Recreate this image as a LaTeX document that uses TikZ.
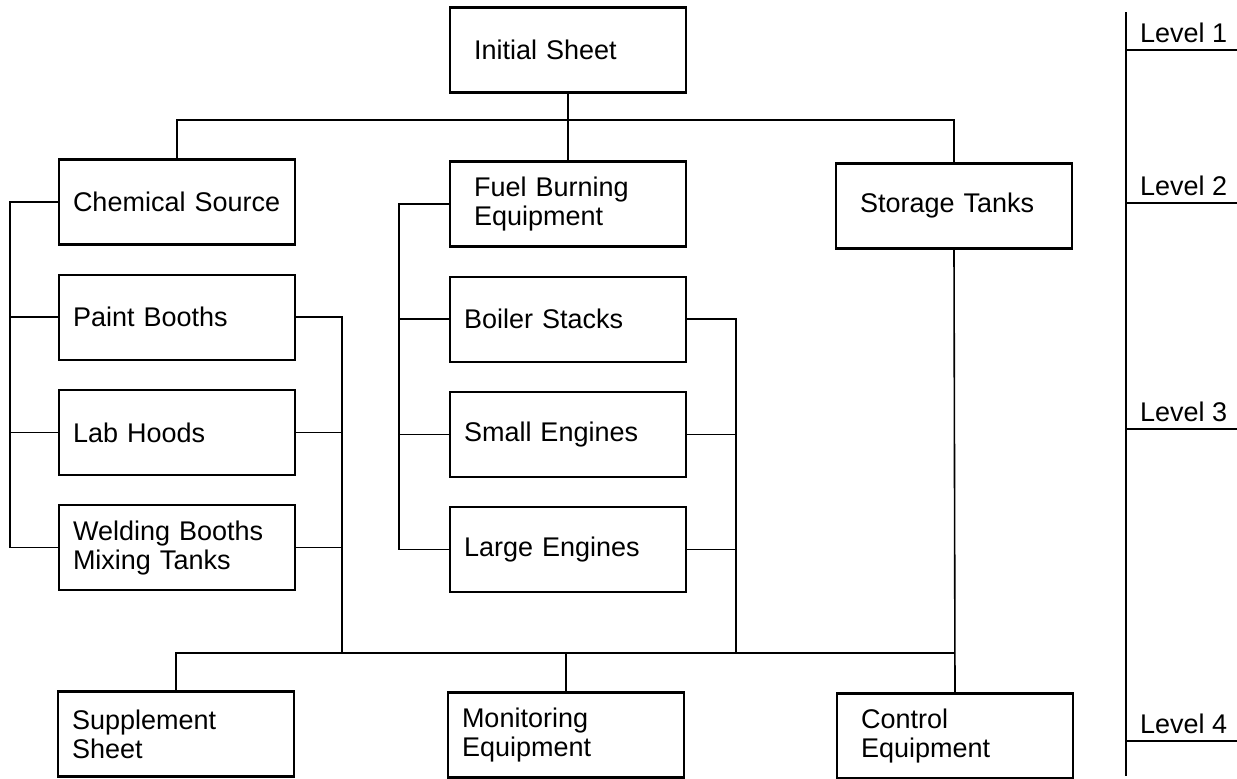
\documentclass[tikz,border=0pt]{standalone}
\usepackage{fontspec}
\setmainfont{Liberation Sans}
\usetikzlibrary{positioning}

\tikzset{
  sheetbox/.style={draw, line width=2.2pt, minimum height=85pt, inner xsep=14pt, text width=208pt, align=left},
  widebox/.style={sheetbox, inner xsep=24pt, text width=188pt},
  link/.style={line width=1.6pt},
}

\begin{document}
\begin{tikzpicture}[x=1pt, y=-1pt, font=\fontsize{27pt}{29pt}\selectfont, node distance=28pt]
  \useasboundingbox (0,0) rectangle (1237,779);

  % levels 1 and 2
  \node[widebox] (init) at (568,50) {Initial Sheet};
  \node[sheetbox] (chem) at (177,202) {Chemical~Source};
  \node[widebox] (fuel) at (568,204) {Fuel Burning\\Equipment};
  \node[widebox] (store) at (954,206) {Storage Tanks};

  % level 3, one stack under each source
  \node[sheetbox, below=of chem] (paint) {Paint Booths};
  \node[sheetbox, below=of paint] (lab) {Lab Hoods};
  \node[sheetbox, below=of lab] (weld) {Welding Booths\\Mixing Tanks};
  \node[sheetbox, below=of fuel] (boiler) {Boiler Stacks};
  \node[sheetbox, below=of boiler] (small) {Small Engines};
  \node[sheetbox, below=of small] (large) {Large Engines};

  % level 4
  \node[sheetbox] (supp) at (176,734) {Supplement\\Sheet};
  \node[sheetbox] (mon) at (566,735) {Monitoring\\Equipment};
  \node[widebox] (ctrl) at (955,736) {Control\\Equipment};

  \coordinate (topbus) at (0,120);
  \coordinate (lowbus) at (0,653);

  % top bus
  \draw[link] (init.south) -- (init.south |- topbus);
  \draw[link] (chem.north) |- (store.north |- topbus) -- (store.north);
  \draw[link] (fuel.north) -- (fuel.north |- topbus);

  % left rails
  \coordinate (chemrail) at ([xshift=-48pt]chem.west);
  \draw[link] (chem.west) -- (chemrail) |- (weld.west);
  \draw[link] (paint.west) -- (paint.west -| chemrail);
  \draw[link] (lab.west) -- (lab.west -| chemrail);
  \coordinate (fuelrail) at ([xshift=-50pt]fuel.west);
  \draw[link] (fuel.west) -- (fuelrail) |- (large.west);
  \draw[link] (boiler.west) -- (boiler.west -| fuelrail);
  \draw[link] (small.west) -- (small.west -| fuelrail);

  % right rails down to the lower bus
  \coordinate (chemout) at ([xshift=46pt]paint.east);
  \draw[link] (paint.east) -- (chemout) -- (chemout |- lowbus);
  \draw[link] (lab.east) -- (lab.east -| chemout);
  \draw[link] (weld.east) -- (weld.east -| chemout);
  \coordinate (fuelout) at ([xshift=49pt]boiler.east);
  \draw[link] (boiler.east) -- (fuelout) -- (fuelout |- lowbus);
  \draw[link] (small.east) -- (small.east -| fuelout);
  \draw[link] (large.east) -- (large.east -| fuelout);

  % lower bus
  \draw[link] (supp.north) |- (ctrl.north |- lowbus);
  \draw[link] (mon.north) -- (mon.north |- lowbus);
  \draw[link] (store.south) -- (ctrl.north);

  % level scale
  \coordinate (bartop) at (1126,12);
  \coordinate (barbot) at (1126,776);
  \draw[link] (bartop) -- (barbot);
  \foreach \lv/\y in {1/50, 2/203, 3/429, 4/741} {
    \draw[link] (bartop |- 0,\y) -- (1237,\y);
    \node[anchor=base west, inner sep=0pt] (level\lv) at (1140,\y-8) {Level \lv};
  }
\end{tikzpicture}
\end{document}
